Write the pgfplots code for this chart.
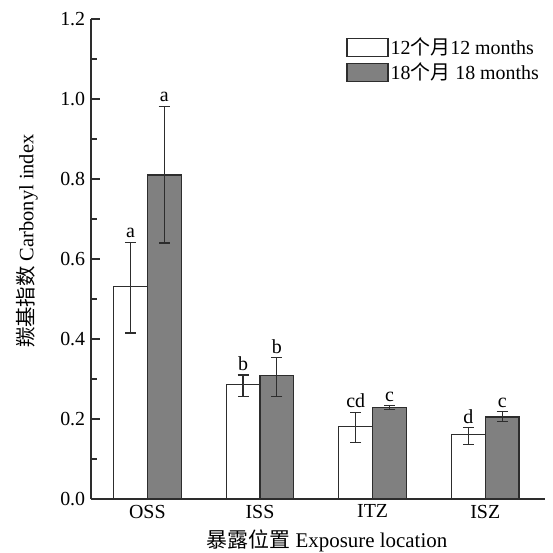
\documentclass[border=0pt]{standalone}
\usepackage{fontspec}
\setmainfont{Liberation Serif}
\newfontfamily\cjk{Noto Sans CJK SC}
\usepackage{pgfplots}
\pgfplotsset{compat=1.18}
\usepackage{pgfplotstable}

\pgfplotstableread{
x y ep em lab
1 0.531 0.111 0.116 a
2 0.286 0.024 0.030 b
3 0.181 0.036 0.039 cd
4 0.162 0.017 0.025 d
}\twelve
\pgfplotstableread{
x y ep em lab
1 0.810 0.172 0.170 a
2 0.308 0.046 0.052 b
3 0.229 0.005 0.006 c
4 0.205 0.013 0.011 c
}\eighteen

\definecolor{bargray}{RGB}{128,128,128}
\definecolor{edge}{RGB}{45,45,45}

\begin{document}
\fontsize{20}{24}\selectfont
\begin{tikzpicture}
\path[use as bounding box] (-91bp,-54bp) rectangle (462bp,499bp);
\begin{axis}[
  at={(0,0)}, anchor=south west,
  scale only axis, width=454bp, height=480bp,
  xmin=0.5, xmax=4.53, ymin=0, ymax=1.2,
  axis lines*=left,
  axis line style={line width=1.2pt, draw=edge},
  every tick/.style={line width=1.2pt, draw=edge},
  tick align=inside,
  /pgf/number format/assume math mode=true,
  ytick={0,0.2,...,1.2},
  minor y tick num=1,
  major tick length=9bp, minor tick length=6bp,
  yticklabel style={/pgf/number format/fixed, /pgf/number format/fixed zerofill, /pgf/number format/precision=1, xshift=1bp},
  xtick={1,2,3,4},
  xticklabels={OSS,ISS,ITZ,ISZ},
  x tick style={draw=none},
  extra x ticks={1.5,2.5,3.5,4.5},
  extra x tick labels={},
  extra x tick style={major tick length=11bp, tick style={line width=1.2pt, draw=edge}},
  xticklabel style={yshift=1bp},
  ylabel={{\cjk 羰基指数} Carbonyl index},
  xlabel={{\cjk 暴露位置} Exposure location},
  ylabel style={at={(ticklabel cs:0.537)}, yshift=9bp, font=\fontsize{20.5}{24}\selectfont},
  xlabel style={yshift=2bp, xshift=9bp, font=\fontsize{21}{24}\selectfont},
  legend style={at={(0.562,0.966)}, anchor=north west, draw=none, fill=none,
    row sep=1bp, inner sep=0pt, nodes={inner sep=2bp}},
  legend cell align=left,
  legend image code/.code={\draw[#1] (0bp,-9bp) rectangle (41bp,9bp);},
  error bars/error bar style={line width=1.2pt, draw=edge},
  error bars/error mark options={rotate=90, mark size=5.5bp, line width=1.2pt, draw=edge},
]
\addplot[ybar, bar width=0.3, bar shift=0, fill=white, draw=edge, line width=1.2pt,
  error bars/.cd, y dir=both, y explicit]
  table[x expr=\thisrow{x}-0.15, y=y, y error plus=ep, y error minus=em] {\twelve};
\addlegendentry{12{\cjk 个月}12 months}
\addplot[ybar, bar width=0.3, bar shift=0, fill=bargray, draw=edge, line width=1.2pt,
  error bars/.cd, y dir=both, y explicit]
  table[x expr=\thisrow{x}+0.15, y=y, y error plus=ep, y error minus=em] {\eighteen};
\addlegendentry{18{\cjk 个月} 18 months}
\addplot[draw=none, mark=none, nodes near coords, point meta=explicit symbolic,
  nodes near coords style={anchor=south, inner sep=1bp, yshift=3bp}, forget plot]
  table[x expr=\thisrow{x}-0.15, y expr=\thisrow{y}+\thisrow{ep}, meta=lab] {\twelve};
\addplot[draw=none, mark=none, nodes near coords, point meta=explicit symbolic,
  nodes near coords style={anchor=south, inner sep=1bp, yshift=3bp}, forget plot]
  table[x expr=\thisrow{x}+0.15, y expr=\thisrow{y}+\thisrow{ep}, meta=lab] {\eighteen};
\end{axis}
\end{tikzpicture}
\end{document}
